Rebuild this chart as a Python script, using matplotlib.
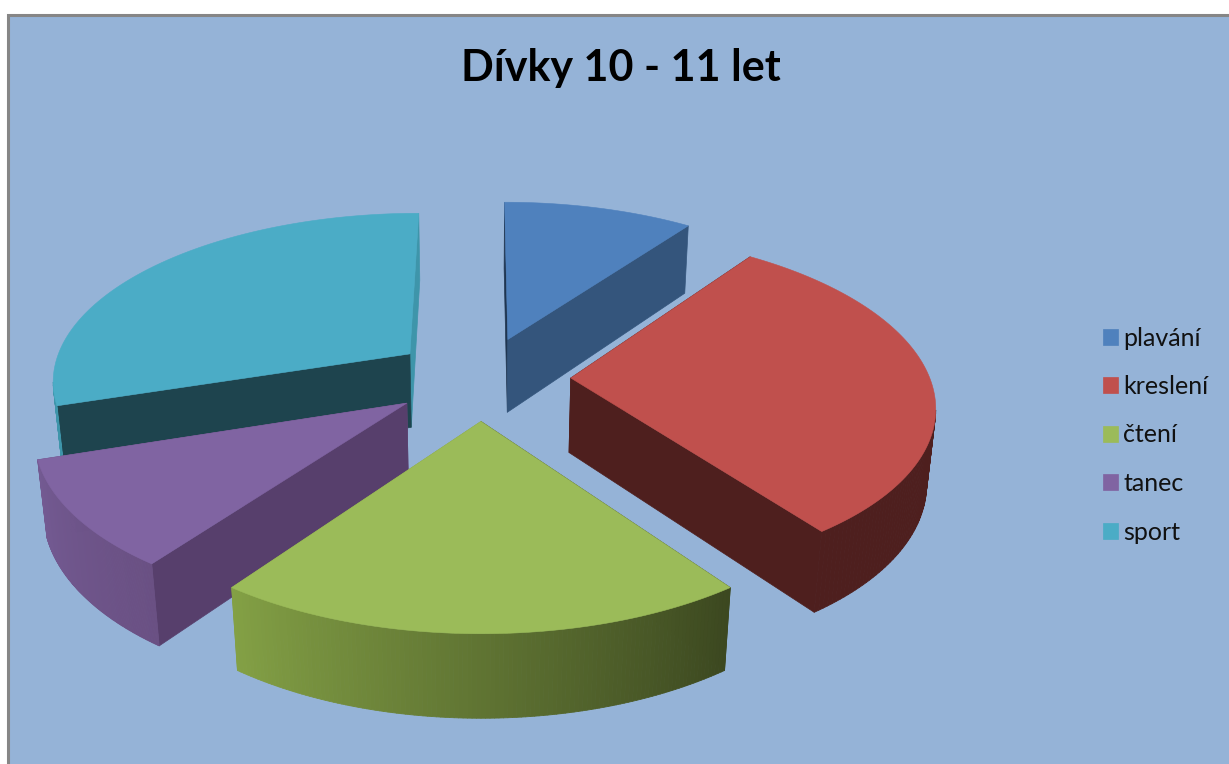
# -*- coding: utf-8 -*-

import numpy as np
import matplotlib
matplotlib.use('Agg')
import matplotlib.pyplot as plt
from matplotlib.collections import PolyCollection
from matplotlib.colors import to_rgb
from matplotlib.patches import Patch, Polygon, Rectangle

plt.rcParams['font.family'] = ['Lato', 'DejaVu Sans']

title = 'Dívky 10 - 11 let'
labels = ['plavání', 'kreslení', 'čtení', 'tanec', 'sport']
values = [10, 30, 20, 10, 30]

top_colors = ['#4F81BD', '#C0504D', '#9BBB59', '#8064A2', '#4BACC6']
# colours of the cut wall at the start and end of each slice (clockwise)
wall_colors = [('#1F3550', '#34557C'), ('#4E1F1E', '#4E1F1E'), ('#3C4820', '#83A045'),
               ('#573F6C', '#6A5083'), ('#1E444E', '#3E95AA')]
# same for the outer wall
rim_colors = [('#34557C', '#34557C'), ('#4E1F1E', '#4E1F1E'),
              ('#3C4820', '#83A045'), ('#6A5083', '#735A92'),
              ('#3E95AA', '#3E95AA')]
# slices are painted back to front
draw_order = [0, 4, 1, 3, 2]

# view of the pie on the picture
CX, CY = 481, 378
RX, RY = 359, 167.5
DEPTH = 0.145
HEIGHT = 76
SHRINK = 0.02
EXPLODE = 0.25


def project(x, y, z):
    # z is 0 on the top face and 1 on the bottom one
    s = 1 / (1 + DEPTH * y + SHRINK * z)
    return np.column_stack([CX + RX * x * s, CY - RY * y * s + HEIGHT * z * s])


def draw_slice(ax, start, end, top, walls, rim):
    mid = (start + end) / 2
    ox, oy = EXPLODE * np.sin(mid), EXPLODE * np.cos(mid)
    t = np.linspace(start, end, 121)
    x, y = ox + np.sin(t), oy + np.cos(t)
    up, down = project(x, y, 0), project(x, y, 1)

    # the two cut walls, the one lower on the picture goes last
    cuts = sorted(zip((0, -1), walls), key=lambda cut: up[cut[0]][1])
    for i, wall in cuts:
        face = project(np.array([ox, x[i], x[i], ox]), np.array([oy, y[i], y[i], oy]),
                       np.array([0, 0, 1, 1]))
        ax.add_patch(Polygon(face, closed=True, fc=wall, ec=wall, lw=0.5))

    # outer wall, cut in narrow strips for the gradient, only the part facing us
    c0, c1 = np.array(to_rgb(rim[0])), np.array(to_rgb(rim[1]))
    strips, shades = [], []
    for i in range(len(t) - 1):
        if up[i + 1][0] < up[i][0]:
            strips.append([up[i], up[i + 1], down[i + 1], down[i]])
            shades.append(c0 + (c1 - c0) * i / (len(t) - 2))
    if strips:
        ax.add_collection(PolyCollection(strips, facecolors=shades, edgecolors=shades, linewidths=0.6))

    # top face
    outline = np.vstack([project(np.array([ox]), np.array([oy]), 0), up])
    ax.add_patch(Polygon(outline, closed=True, fc=top, ec=top, lw=0.4))


fig = plt.figure(figsize=(12.29, 7.64), dpi=100, facecolor='white')
ax = fig.add_axes([0, 0, 1, 1])
ax.set_xlim(0, 1229)
ax.set_ylim(764, 0)
ax.axis('off')

ax.add_patch(Rectangle((7.5, 14.5), 1300, 800, fc='#95B3D7', ec='#868686', lw=2.2))

shares = np.array(values, dtype=float)
edges = np.concatenate([[0], np.cumsum(shares)]) / shares.sum() * 2 * np.pi
for i in draw_order:
    draw_slice(ax, edges[i], edges[i + 1], top_colors[i], wall_colors[i], rim_colors[i])

ax.text(621, 68, title, ha='center', va='center', fontsize=31, fontweight='bold', color='black')

handles = [Patch(fc=c, ec=c, lw=0.5) for c in top_colors]
ax.legend(handles, labels, loc='center left', bbox_to_anchor=(1103, 435), bbox_transform=ax.transData,
          frameon=False, fontsize=18, handlelength=0.6, handleheight=0.6, handletextpad=0.22,
          labelspacing=1.02, borderpad=0, borderaxespad=0, labelcolor='#111111')

fig.savefig('out.png', dpi=100)
